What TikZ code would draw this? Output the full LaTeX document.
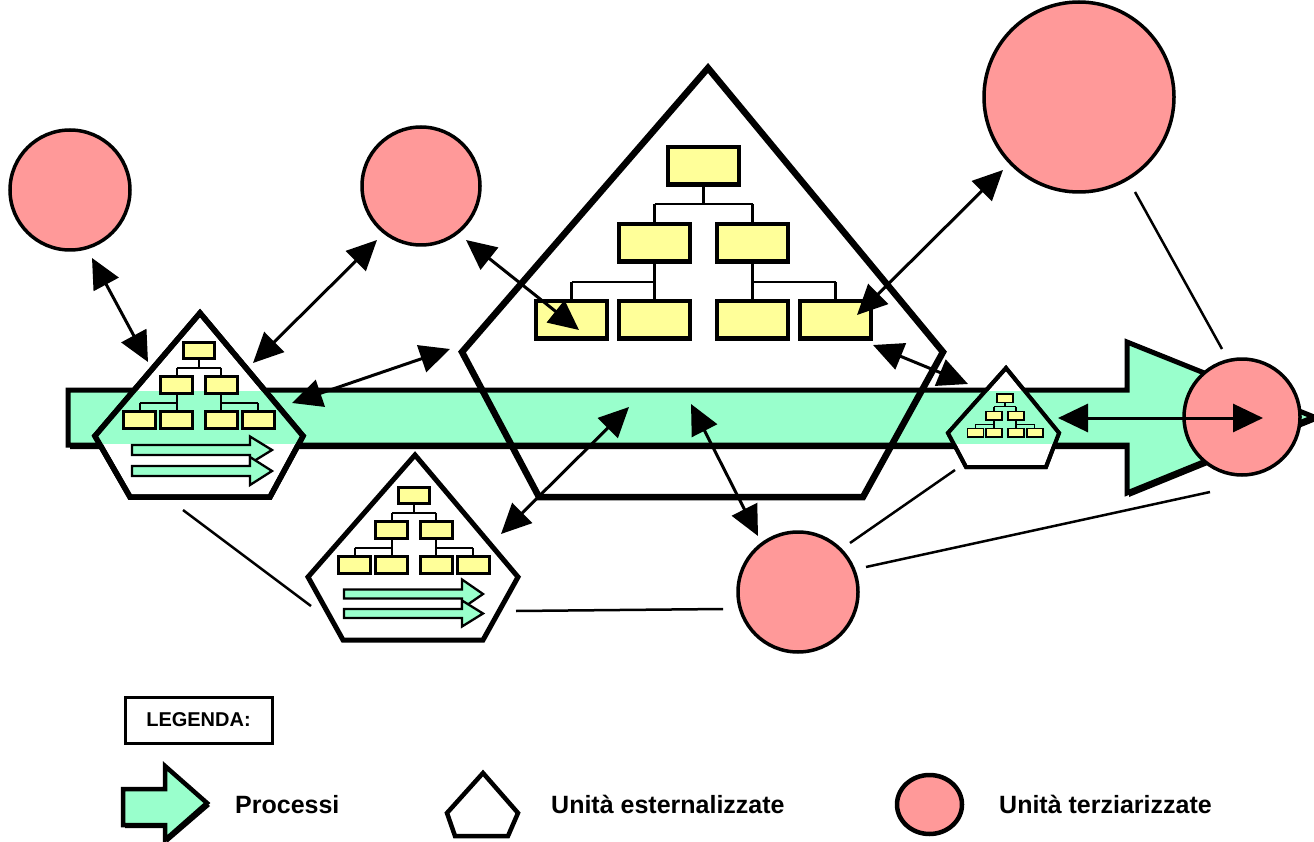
\documentclass[tikz,border=0pt]{standalone}
\usepackage{fontspec}
\setmainfont{Liberation Sans}
\usetikzlibrary{arrows.meta,shapes.geometric}
\definecolor{procgreen}{HTML}{99FFCC}
\definecolor{orgyellow}{HTML}{FFFF99}
\definecolor{unitpink}{HTML}{FF9999}

% organisation chart: #1 centre x, #2 top y, #3 scale, #4 box border, #5 link width
\newcommand{\orgchart}[5]{%
  \begin{scope}[shift={(#1,#2)}, scale=#3]
    \draw[line width=#5]
      (0,38) -- (0,57) (-49,57) -- (49,57) (-49,57) -- (-49,77) (49,57) -- (49,77)
      (-49,115) -- (-49,154) (-132,135) -- (-49,135) (-132,135) -- (-132,154)
      (49,115) -- (49,154) (49,135) -- (132,135) (132,135) -- (132,154);
    \foreach \bx/\by in {0/0,-49/77,49/77,-132/154,-49/154,49/154,132/154}
      \draw[orgbox, line width=#4] (\bx-35.5,\by) rectangle (\bx+35.5,\by+37.5);
  \end{scope}}

% small process arrow: #1 start x, #2 head base x, #3 tip x, #4 centre y, #5 half shaft, #6 half head
\newcommand{\procarrow}[6]{%
  \draw[smallproc] (#1,#4-#5) -- (#2,#4-#5) -- (#2,#4-#6) -- (#3,#4)
    -- (#2,#4+#6) -- (#2,#4+#5) -- (#1,#4+#5) -- cycle;}

\begin{document}
\begin{tikzpicture}[x=1pt,y=-1pt,
  orgbox/.style={fill=orgyellow, draw=black},
  smallproc/.style={fill=procgreen, draw=black, line width=2.3pt},
  unitcirc/.style={circle, fill=unitpink, draw=black, line width=3.5pt, inner sep=0pt},
  unitpent/.style={draw=black, fill=white, line join=miter},
  link/.style={line width=3pt, {Triangle[length=30pt,width=28pt]}-{Triangle[length=30pt,width=28pt]}},
  plainline/.style={line width=2.5pt},
  legendtext/.style={anchor=base west, inner sep=0pt, font=\fontsize{25}{30}\selectfont\bfseries}]

\useasboundingbox (0,0) rectangle (1314,842);

% ---------- main process arrow ----------
\fill[black] (70,394) -- (1129,394) -- (1129,346) -- (1316,421) -- (1129,497)
  -- (1129,449) -- (70,449) -- cycle;
\draw[fill=procgreen, line width=5pt] (68,390) -- (1127,390) -- (1127,342) -- (1314,417)
  -- (1127,493) -- (1127,445) -- (68,445) -- cycle;

% ---------- central unit ----------
\draw[line width=6.5pt, line join=miter] (708,68) -- (943,352) -- (863,497) -- (539,497) -- (462,352) -- cycle;
\orgchart{703.5}{147}{1}{4.5pt}{2.3pt}

% ---------- left unit ----------
\draw[unitpent, line width=5.5pt] (200,313) -- (303,436) -- (270,497) -- (130,497) -- (95,436) -- cycle;
\begin{scope}
  \clip (200,313) -- (303,436) -- (270,497) -- (130,497) -- (95,436) -- cycle;
  \fill[procgreen] (60,391) rectangle (320,444);
\end{scope}
\procarrow{132}{250}{272}{450}{5}{13.5}
\procarrow{132}{250}{272}{471}{5}{14}
\orgchart{199}{342}{0.45}{3pt}{2pt}
\draw[line width=5.5pt, line join=miter] (200,313) -- (303,436) -- (270,497) -- (130,497) -- (95,436) -- cycle;

% ---------- lower unit ----------
\draw[unitpent, line width=5pt] (415,455) -- (518,577) -- (483,640) -- (343,640) -- (308,577) -- cycle;
\procarrow{344}{462}{483}{594}{4.5}{14.5}
\procarrow{344}{462}{483}{613.5}{4.5}{13}
\orgchart{414}{487}{0.45}{3pt}{2pt}

% ---------- small right unit ----------
\draw[unitpent, line width=4pt] (1006,368) -- (1059,433) -- (1046,467) -- (966,467) -- (948,433) -- cycle;
\begin{scope}
  \clip (1006,368) -- (1059,433) -- (1046,467) -- (966,467) -- (948,433) -- cycle;
  \fill[procgreen] (940,391) rectangle (1070,444);
\end{scope}
\orgchart{1005}{394}{0.225}{1.6pt}{1.2pt}
\draw[line width=4pt, line join=miter] (1006,368) -- (1059,433) -- (1046,467) -- (966,467) -- (948,433) -- cycle;

% ---------- outsourced units ----------
\node[unitcirc, minimum size=120pt] (c1) at (70,190) {};
\node[unitcirc, minimum size=118pt] (c2) at (421,186) {};
\node[unitcirc, minimum size=190pt] (c3) at (1079,97) {};
\node[unitcirc, minimum size=116pt] (c4) at (1242,417) {};
\node[unitcirc, minimum size=120pt] (c5) at (798,592) {};

% ---------- plain links ----------
\coordinate (p1a) at (183,510);  \coordinate (p1b) at (311,606);
\coordinate (p2a) at (516,611);  \coordinate (p2b) at (723,609);
\coordinate (p3a) at (850,543);  \coordinate (p3b) at (955,470);
\coordinate (p4a) at (866,567);  \coordinate (p4b) at (1210,492);
\coordinate (p5a) at (1135,192); \coordinate (p5b) at (1222,349);
\draw[plainline] (p1a) -- (p1b);
\draw[plainline] (p2a) -- (p2b);
\draw[plainline] (p3a) -- (p3b);
\draw[plainline] (p4a) -- (p4b);
\draw[plainline] (p5a) -- (p5b);

% ---------- exchanges ----------
\coordinate (a1a) at (92,258);   \coordinate (a1b) at (148,362);
\coordinate (a2a) at (377,240);  \coordinate (a2b) at (253,363);
\coordinate (a3a) at (450,349);  \coordinate (a3b) at (292,403);
\coordinate (a4a) at (466,240);  \coordinate (a4b) at (579,330);
\coordinate (a5a) at (1003,170); \coordinate (a5b) at (857,315);
\coordinate (a6a) at (873,345);  \coordinate (a6b) at (968,384);
\coordinate (a7a) at (1058,418); \coordinate (a7b) at (1263,418);
\coordinate (a8a) at (629,407);  \coordinate (a8b) at (501,534);
\coordinate (a9a) at (691,404);  \coordinate (a9b) at (758,536);
\foreach \k in {1,...,9} \draw[link] (a\k a) -- (a\k b);

% ---------- legend ----------
\node[draw=black, line width=3pt, minimum width=147pt, minimum height=46pt, inner sep=0pt,
  font=\fontsize{20}{24}\selectfont\bfseries] (leg) at (198.5,720) {LEGENDA:};

\fill[black] (125,792) -- (167,792) -- (167,769) -- (210,806) -- (167,843) -- (167,828) -- (125,828) -- cycle;
\draw[fill=procgreen, line width=4.5pt, line join=miter] (123,789) -- (165,789) -- (165,766) -- (207,803)
  -- (165,840) -- (165,825) -- (123,825) -- cycle;
\node[legendtext] (lproc) at (235,813) {Processi};

\draw[line width=4.5pt, line join=miter] (483,773) -- (518,813) -- (508,836) -- (455,836) -- (447,813) -- cycle;
\node[legendtext] (lext) at (551,813) {Unità esternalizzate};

\node[ellipse, fill=unitpink, draw=black, line width=4.5pt, minimum width=65pt, minimum height=59pt,
  inner sep=0pt] (lcirc) at (929.5,804.5) {};
\node[legendtext] (lter) at (999,813) {Unità terziarizzate};

\end{tikzpicture}
\end{document}
